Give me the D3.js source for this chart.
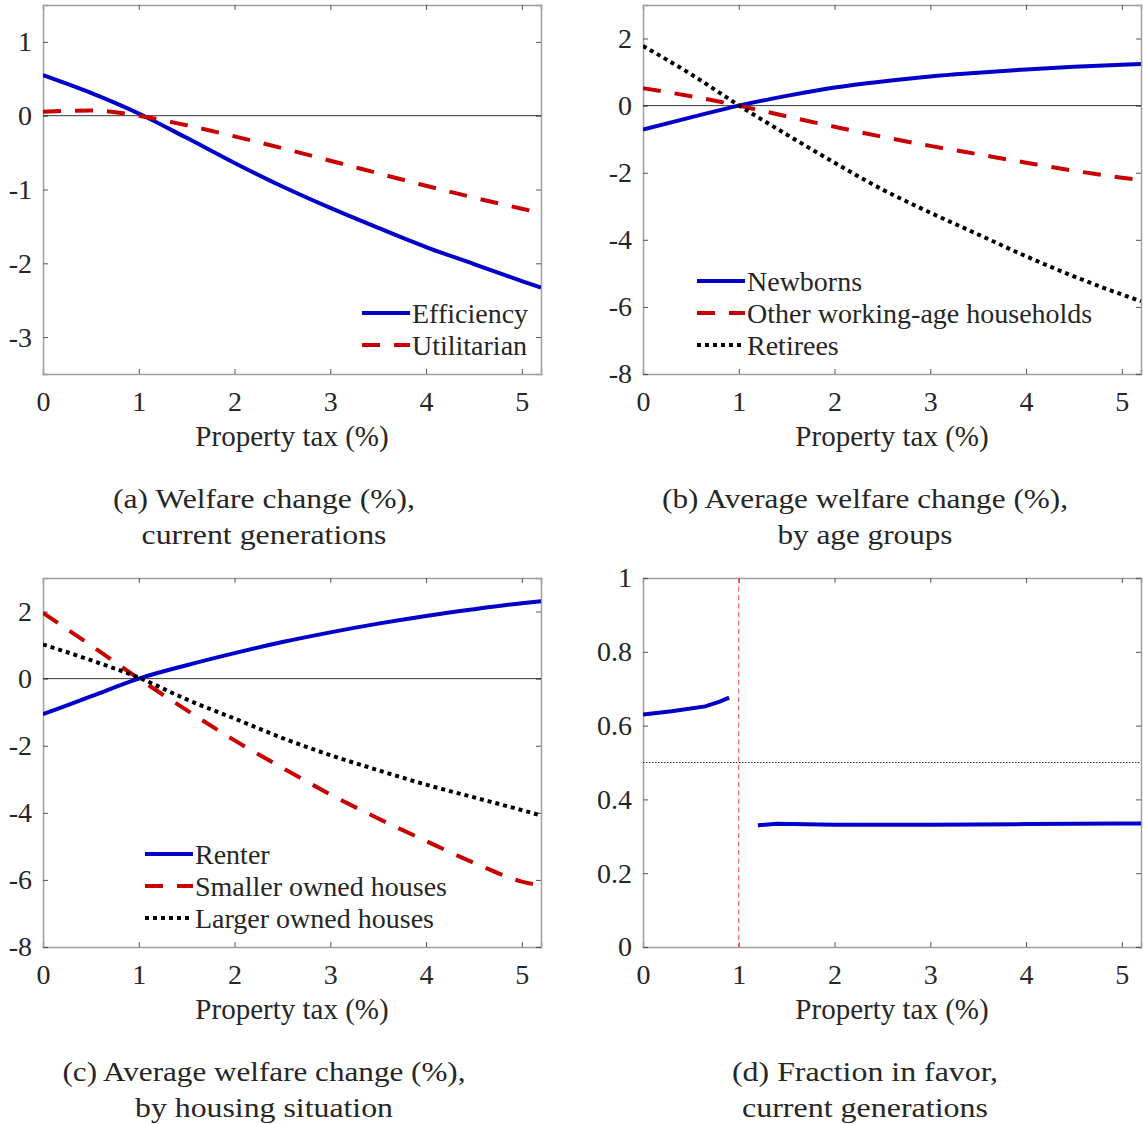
<!DOCTYPE html>
<html><head><meta charset="utf-8">
<script src="https://cdn.jsdelivr.net/npm/d3@7"></script>
<style>
body{margin:0;background:#fff;}
svg text{font-family:"Liberation Serif","Times New Roman",serif;fill:#262626;}
</style></head>
<body><svg id="c" width="1143" height="1124"></svg>
<script>
// ---- data ----
const taxGrid = [0, 0.5, 1, 1.5, 2, 2.5, 3, 3.5, 4, 4.5, 5, 5.2];
const xTicks = [0, 1, 2, 3, 4, 5];

// (a) welfare change, current generations
const efficiency  = [0.55, 0.31, 0.03, -0.30, -0.64, -0.96, -1.25, -1.52, -1.78, -2.01, -2.24, -2.33];
const utilitarian = [0.055, 0.07, 0.0, -0.13, -0.28, -0.44, -0.61, -0.78, -0.95, -1.11, -1.26, -1.32];

// (b) by age groups
const newborns  = [-0.71, -0.35, 0.0, 0.29, 0.54, 0.72, 0.87, 0.98, 1.08, 1.16, 1.22, 1.24];
const otherWork = [0.52, 0.28, 0.0, -0.32, -0.63, -0.93, -1.20, -1.45, -1.70, -1.94, -2.15, -2.22];
const retirees  = [1.78, 0.94, 0.01, -0.86, -1.70, -2.50, -3.19, -3.84, -4.49, -5.09, -5.63, -5.83];

// (c) by housing situation
const renter       = [-1.06, -0.53, 0.0, 0.40, 0.76, 1.09, 1.38, 1.64, 1.87, 2.07, 2.25, 2.31];
const smallerOwned = [1.96, 0.99, 0.0, -0.94, -1.84, -2.66, -3.45, -4.17, -4.84, -5.49, -6.05, -6.17];
const largerOwned  = [1.02, 0.55, 0.03, -0.62, -1.19, -1.77, -2.28, -2.73, -3.16, -3.54, -3.92, -4.08];

// (d) fraction in favor (two segments)
const favorTaxLow  = [0, 0.3, 0.65, 0.8, 0.9];
const favorLow     = [0.630, 0.639, 0.652, 0.665, 0.676];
const favorTaxHigh = [1.2, 1.4, 2, 3, 4, 5, 5.2];
const favorHigh    = [0.330, 0.334, 0.331, 0.331, 0.333, 0.335, 0.335];

const yTicksA = [-3, -2, -1, 0, 1];
const yTicksBC = [-8, -6, -4, -2, 0, 2];
const yTicksD = [0, 0.2, 0.4, 0.6, 0.8, 1];
const yTickLabelsD = ["0", "0.2", "0.4", "0.6", "0.8", "1"];

// ---- styles ----
const BLUE = "#0000c8", RED = "#c80000", BLACK = "#000";
const styles = {
  solid:  {color: BLUE, dash: null},
  dashed: {color: RED, dash: "18,14"},
  dotted: {color: BLACK, dash: "4,4"}
};

const svg = d3.select("#c");
const W = 498, H = 369;
const FS = 28;

function panel(opt) {
  const g = svg.append("g").attr("transform", `translate(${opt.left},${opt.top})`);
  const x = d3.scaleLinear().domain([0, 5.2]).range([0, W]);
  const y = d3.scaleLinear().domain(opt.yDomain).range([H, 0]);
  const clipId = "clip" + opt.id;
  g.append("clipPath").attr("id", clipId).append("rect").attr("width", W).attr("height", H);

  const fmt = opt.yLabels ? (d, i) => opt.yLabels[i] : d => String(d);
  const bx = g.append("g").attr("transform", `translate(0,${H})`)
    .call(d3.axisBottom(x).tickValues(xTicks).tickSize(-5).tickPadding(17).tickFormat(d => String(d)));
  const tx = g.append("g").call(d3.axisTop(x).tickValues(xTicks).tickSize(-5).tickFormat(""));
  const ly = g.append("g").call(d3.axisLeft(y).tickValues(opt.yTicks).tickSize(-5).tickPadding(11).tickFormat(fmt));
  const ry = g.append("g").attr("transform", `translate(${W},0)`)
    .call(d3.axisRight(y).tickValues(opt.yTicks).tickSize(-5).tickFormat(""));
  [bx, tx, ly, ry].forEach(a => {
    a.select(".domain").attr("stroke", "#a0a0a0").attr("stroke-width", 1.5);
    a.selectAll(".tick line").attr("stroke", "#555");
    a.selectAll(".tick text").attr("font-size", FS).attr("fill", "#262626")
      .attr("font-family", '"Liberation Serif",serif');
  });
  bx.selectAll(".tick text").attr("dy", "0.71em");

  g.append("text").attr("x", W / 2).attr("y", H + 72).attr("text-anchor", "middle")
    .attr("font-size", 29).text("Property tax (%)");

  const plot = g.append("g").attr("clip-path", `url(#${clipId})`);
  if (opt.zeroLine) {
    plot.append("line").attr("x1", 0).attr("x2", W).attr("y1", y(0)).attr("y2", y(0))
      .attr("stroke", "#000").attr("stroke-width", 0.8);
  }
  if (opt.extra) opt.extra(plot, x, y);

  const line = d3.line().x(d => x(d[0])).y(d => y(d[1])).curve(opt.curve || d3.curveMonotoneX);
  opt.series.forEach(s => {
    const st = styles[s.style];
    const pts = s.xs.map((v, i) => [v, s.ys[i]]);
    plot.append("path").attr("d", line(pts)).attr("fill", "none")
      .attr("stroke", st.color).attr("stroke-width", 4)
      .attr("stroke-dasharray", st.dash).attr("stroke-linecap", "butt");
  });

  if (opt.legend) {
    const lg = g.append("g").attr("transform", `translate(${opt.legend.x},${opt.legend.y})`);
    opt.series.forEach((s, i) => {
      const st = styles[s.style];
      const yy = i * 32;
      lg.append("line").attr("x1", 0).attr("x2", 48).attr("y1", yy).attr("y2", yy)
        .attr("stroke", st.color).attr("stroke-width", 4).attr("stroke-dasharray", st.dash);
      lg.append("text").attr("x", 50).attr("y", yy).attr("dy", "0.35em")
        .attr("font-size", FS).text(s.name);
    });
  }

  opt.caption.forEach((c, i) => {
    svg.append("text").attr("text-anchor", "middle").attr("font-size", 28)
      .attr("x", opt.capX).attr("y", opt.top + H + 134 + i * 36)
      .attr("textLength", opt.capW[i]).attr("lengthAdjust", "spacingAndGlyphs")
      .text(c);
  });
}

panel({
  id: "a", left: 43, top: 5, yDomain: [-3.5, 1.5], yTicks: yTicksA, zeroLine: true,
  series: [
    {name: "Efficiency", style: "solid", xs: taxGrid, ys: efficiency},
    {name: "Utilitarian", style: "dashed", xs: taxGrid, ys: utilitarian}
  ],
  legend: {x: 319, y: 308},
  capX: 264, capW: [302, 245], caption: ["(a) Welfare change (%),", "current generations"]
});

panel({
  id: "b", left: 643, top: 5, yDomain: [-8, 3], yTicks: yTicksBC, zeroLine: true,
  series: [
    {name: "Newborns", style: "solid", xs: taxGrid, ys: newborns},
    {name: "Other working-age households", style: "dashed", xs: taxGrid, ys: otherWork},
    {name: "Retirees", style: "dotted", xs: taxGrid, ys: retirees}
  ],
  legend: {x: 54, y: 276},
  capX: 865, capW: [406, 175], caption: ["(b) Average welfare change (%),", "by age groups"]
});

panel({
  id: "c", left: 43, top: 578, yDomain: [-8, 3], yTicks: yTicksBC, zeroLine: true,
  series: [
    {name: "Renter", style: "solid", xs: taxGrid, ys: renter},
    {name: "Smaller owned houses", style: "dashed", xs: taxGrid, ys: smallerOwned},
    {name: "Larger owned houses", style: "dotted", xs: taxGrid, ys: largerOwned}
  ],
  legend: {x: 102, y: 276},
  capX: 264, capW: [403, 258], caption: ["(c) Average welfare change (%),", "by housing situation"]
});

panel({
  id: "d", left: 643, top: 578, yDomain: [0, 1], yTicks: yTicksD, yLabels: yTickLabelsD, zeroLine: false,
  curve: d3.curveLinear,
  extra: (plot, x, y) => {
    plot.append("line").attr("x1", 0).attr("x2", W).attr("y1", y(0.5)).attr("y2", y(0.5))
      .attr("stroke", "#000").attr("stroke-width", 0.8).attr("stroke-dasharray", "1.5,1.5");
    plot.append("line").attr("x1", x(1)).attr("x2", x(1)).attr("y1", 0).attr("y2", H)
      .attr("stroke", "#f04848").attr("stroke-width", 1).attr("stroke-dasharray", "5,3.5");
  },
  series: [
    {name: "low", style: "solid", xs: favorTaxLow, ys: favorLow},
    {name: "high", style: "solid", xs: favorTaxHigh, ys: favorHigh}
  ],
  capX: 865, capW: [266, 246], caption: ["(d) Fraction in favor,", "current generations"]
});
</script></body></html>
